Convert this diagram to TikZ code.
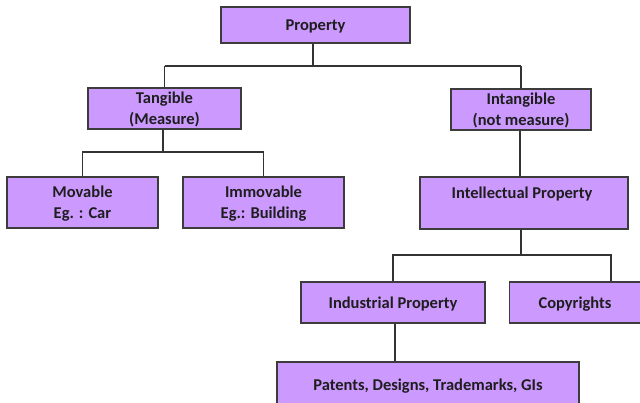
\documentclass[tikz,border=0pt]{standalone}
\usepackage{fontspec}
\setmainfont{Carlito}
\definecolor{boxfill}{HTML}{CC99FF}
\definecolor{boxline}{HTML}{3C3C3C}
\definecolor{conn}{HTML}{333333}
\definecolor{txt}{HTML}{1E1E1E}
\begin{document}
\begin{tikzpicture}[x=1pt,y=-1pt,
  pbox/.style={draw=boxline, line width=1.2pt, fill=boxfill, inner sep=0pt, align=center,
    text=txt, font=\fontsize{16.5}{21}\selectfont\bfseries, text depth=0pt},
  plain/.style={inner sep=0pt, align=center, text=txt, font=\fontsize{16.5}{21}\selectfont\bfseries},
  link/.style={draw=conn, line width=1.1pt}]
\clip (0,0) rectangle (640,403);
\fill[white] (0,0) rectangle (640,403);
\node[pbox, minimum width=189pt, minimum height=36pt] (prop) at (315.5,25) {Property};
\node[pbox, minimum width=153pt, minimum height=41pt] (tang) at (164.5,108.5) {Tangible\\(Measure)};
\node[pbox, minimum width=140pt, minimum height=41pt] (intang) at (521,109.5) {Intangible\\(not measure)};
\node[pbox, minimum width=151pt, minimum height=51pt] (mov) at (82.5,202.5) {Movable\\Eg. : Car};
\node[pbox, minimum width=161pt, minimum height=51pt] (imm) at (263.5,202.5) {Immovable\\Eg.: Building};
\node[pbox, minimum width=208pt, minimum height=52pt] (ip) at (524,203) {};
\node[plain] (ipt) at (522,194) {Intellectual Property};
\node[pbox, minimum width=184pt, minimum height=41pt] (ind) at (393,302.5) {Industrial Property};
\node[pbox, minimum width=131pt, minimum height=41pt] (copy) at (575,302.5) {Copyrights};
\node[pbox, minimum width=302pt, minimum height=50pt] (pat) at (428,387) {};
\node[plain] (patt) at (428,386) {Patents, Designs, Trademarks, GIs};
% connectors
\coordinate (h1) at (313,66);
\coordinate (h2) at (163,152);
\coordinate (h3) at (521,255);
\draw[link] ([xshift=-2.5pt]prop.south) -- (h1);
\draw[link] (tang.north |- h1) -- (intang.north |- h1);
\draw[link] (tang.north |- h1) -- (tang.north);
\draw[link] (intang.north |- h1) -- (intang.north);
\draw[link] ([xshift=-1.5pt]tang.south) -- (h2);
\draw[link] (mov.north) -- (mov.north |- h2) -- (imm.north |- h2) -- (imm.north);
\draw[link] ([xshift=-1pt]intang.south) -- ([xshift=-1pt]intang.south |- ip.north);
\draw[link] ([xshift=-3pt]ip.south) -- (h3);
\draw[link] (ind.north) -- (ind.north |- h3) -- ([xshift=36pt]copy.north |- h3) -- ([xshift=36pt]copy.north);
\draw[link] ([xshift=2pt]ind.south) -- ([xshift=2pt]ind.south |- pat.north);
\end{tikzpicture}
\end{document}
